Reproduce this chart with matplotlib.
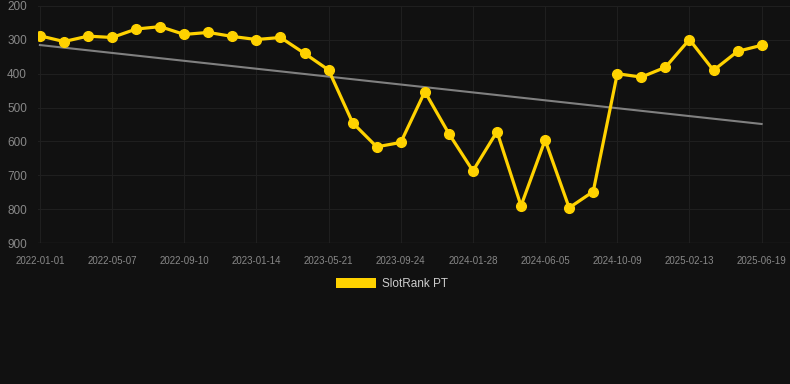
import matplotlib
matplotlib.use("Agg")
import matplotlib.pyplot as plt
import numpy as np
from matplotlib.patches import Patch

# rank values (lower rank = better, axis inverted)
rank = [288, 305, 289, 293, 268, 261, 284, 278, 290, 299, 293, 340, 389,
        545, 616, 603, 453, 577, 687, 571, 790, 596, 796, 748, 400, 410,
        381, 299, 390, 334, 316]
tick_labels = ['2022-01-01', '2022-05-07', '2022-09-10', '2023-01-14',
               '2023-05-21', '2023-09-24', '2024-01-28', '2024-06-05',
               '2024-10-09', '2025-02-13', '2025-06-19']
yticks = [200, 300, 400, 500, 600, 700, 800, 900]

bg = '#111111'
gold = '#FFD200'

plt.rcParams['font.family'] = ['Liberation Sans', 'DejaVu Sans']

fig = plt.figure(figsize=(7.9, 3.84), dpi=100, facecolor=bg)
ax = fig.add_axes([38 / 790, 1 - 243 / 384, (790 - 38) / 790, (243 - 6) / 384])
ax.set_facecolor(bg)

x = np.arange(len(rank))

# trend line (least squares)
k, b = np.polyfit(x, rank, 1)
ax.plot(x, k * x + b, color='#808080', linewidth=1.5, zorder=2)

ax.plot(x, rank, color=gold, linewidth=2.3, marker='o', markersize=7,
        zorder=3)

ax.set_ylim(900, 200)
ax.set_xlim(-0.08, 30.2 + 0.98)
ax.set_yticks(yticks)
ax.set_xticks(x[::3])
ax.set_xticklabels(tick_labels)

ax.grid(True, color='#1f1f1f', linewidth=0.8)
ax.axhline(900, color='#2a2a2a', linewidth=1, zorder=1)
ax.set_axisbelow(True)
for s in ax.spines.values():
    s.set_visible(False)
ax.tick_params(axis='x', colors='#888888', labelsize=7, length=0, pad=9)
ax.tick_params(axis='y', colors='#888888', labelsize=8.5, length=0, pad=8)

leg = fig.legend(handles=[Patch(facecolor=gold, label='SlotRank PT')],
                 loc='center', bbox_to_anchor=(0.496, 1 - 284 / 384),
                 frameon=False, fontsize=8.5, handlelength=3.4, handleheight=0.95,
                 handletextpad=0.5)
for t in leg.get_texts():
    t.set_color('#cccccc')

fig.savefig('out.png', dpi=100, facecolor=bg)
